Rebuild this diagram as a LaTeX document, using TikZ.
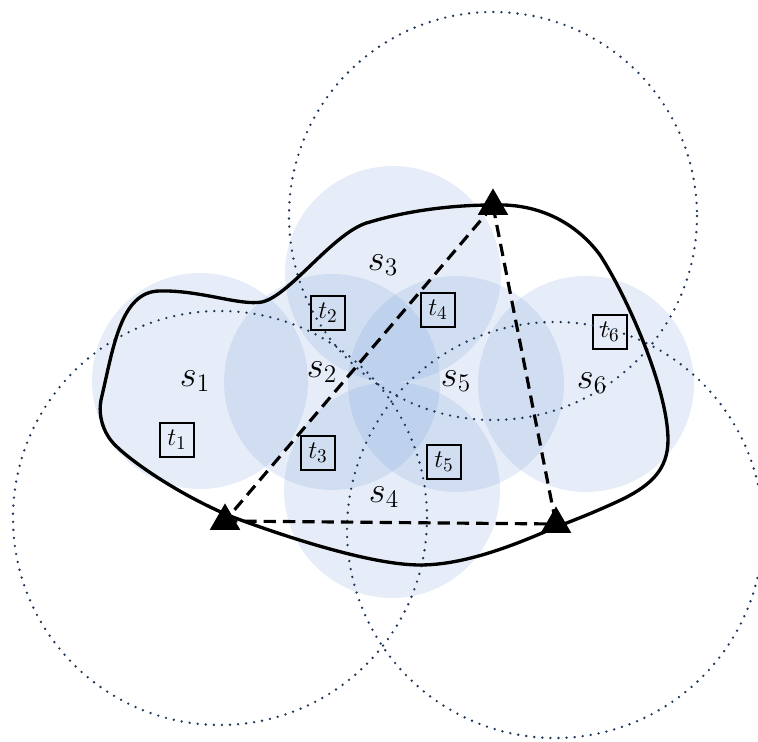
\documentclass[tikz,border=0pt]{standalone}
\usepackage{amsmath}
\usepackage{tikz}
\usetikzlibrary{positioning, shapes.geometric}

\definecolor{sensefill}{RGB}{80,130,205}
\definecolor{rangeline}{RGB}{31,56,88}

\begin{document}
\begin{tikzpicture}[x=0.02cm, y=-0.02cm]
            \tikzstyle{sensor} = [fill=sensefill, fill opacity=0.14]
            \tikzstyle{anchorrange} = [draw=rangeline, line width=1.5pt, line cap=round, dash pattern=on 0pt off 4.6pt]
            \tikzstyle{boundary} = [draw, line width=1.9pt]
            \tikzstyle{link} = [draw, line width=1.8pt, dash pattern=on 7pt off 4pt]
            \tikzstyle{anchorpt} = [regular polygon, regular polygon sides=3, fill=black,
                inner sep=0pt, minimum size=20pt]
            \tikzstyle{slabel} = [font=\fontsize{20}{24}\selectfont]
            \tikzstyle{target} = [rectangle, draw, line width=1.2pt, inner sep=1pt,
                minimum size=19pt, font=\fontsize{15}{18}\selectfont]

            \useasboundingbox (0,0) rectangle (758,742);

            % sensing discs
            \fill [sensor] (200,381) circle (108);
            \fill [sensor] (332,382) circle (108);
            \fill [sensor] (393,274) circle (108);
            \fill [sensor] (392,490) circle (108);
            \fill [sensor] (456,384) circle (108);
            \fill [sensor] (586,384) circle (108);

            % target boxes
            \node [target] (t1) at (177,440) {$t_1$};
            \node [target] (t2) at (328,313) {$t_2$};
            \node [target] (t3) at (318,453) {$t_3$};
            \node [target] (t4) at (438,310) {$t_4$};
            \node [target] (t5) at (444,462) {$t_5$};
            \node [target] (t6) at (610,332) {$t_6$};

            % ranges of the anchors
            \path [anchorrange] (493,216) circle (204);
            \path [anchorrange] (220,518) circle (207);
            \path [anchorrange] (555,530) circle (208);

            % region boundary
            \path [boundary] (101,400)
                .. controls (113,350) and (120,291) .. (160,291)
                .. controls (200,290) and (240,306) .. (262,302)
                .. controls (290,296) and (335,230) .. (370,222)
                .. controls (410,210) and (455,205) .. (493,205)
                .. controls (545,203) and (580,228) .. (600,255)
                .. controls (628,298) and (668,390) .. (668,440)
                .. controls (668,470) and (650,485) .. (625,498)
                .. controls (600,510) and (575,520) .. (556,527)
                .. controls (515,545) and (465,565) .. (420,565)
                .. controls (370,565) and (280,535) .. (230,516)
                .. controls (180,495) and (133,463) .. (115,445)
                .. controls (103,433) and (98,415) .. cycle;

            \node [anchorpt] (apA) at (493,206) {};
            \node [anchorpt] (apB) at (225,521) {};
            \node [anchorpt] (apC) at (556,524) {};

            \path [link] (apA.center) -- (apB.center);
            \path [link] (apA.center) -- (apC.center);
            \path [link] (apB.center) -- (apC.center);

            \node [slabel] (s1) at (195,381) {$s_1$};
            \node [slabel] (s2) at (322,372) {$s_2$};
            \node [slabel] (s3) at (383,265) {$s_3$};
            \node [slabel] (s4) at (384,497) {$s_4$};
            \node [slabel] (s5) at (456,381) {$s_5$};
            \node [slabel] (s6) at (592,383) {$s_6$};
        \end{tikzpicture}
\end{document}
